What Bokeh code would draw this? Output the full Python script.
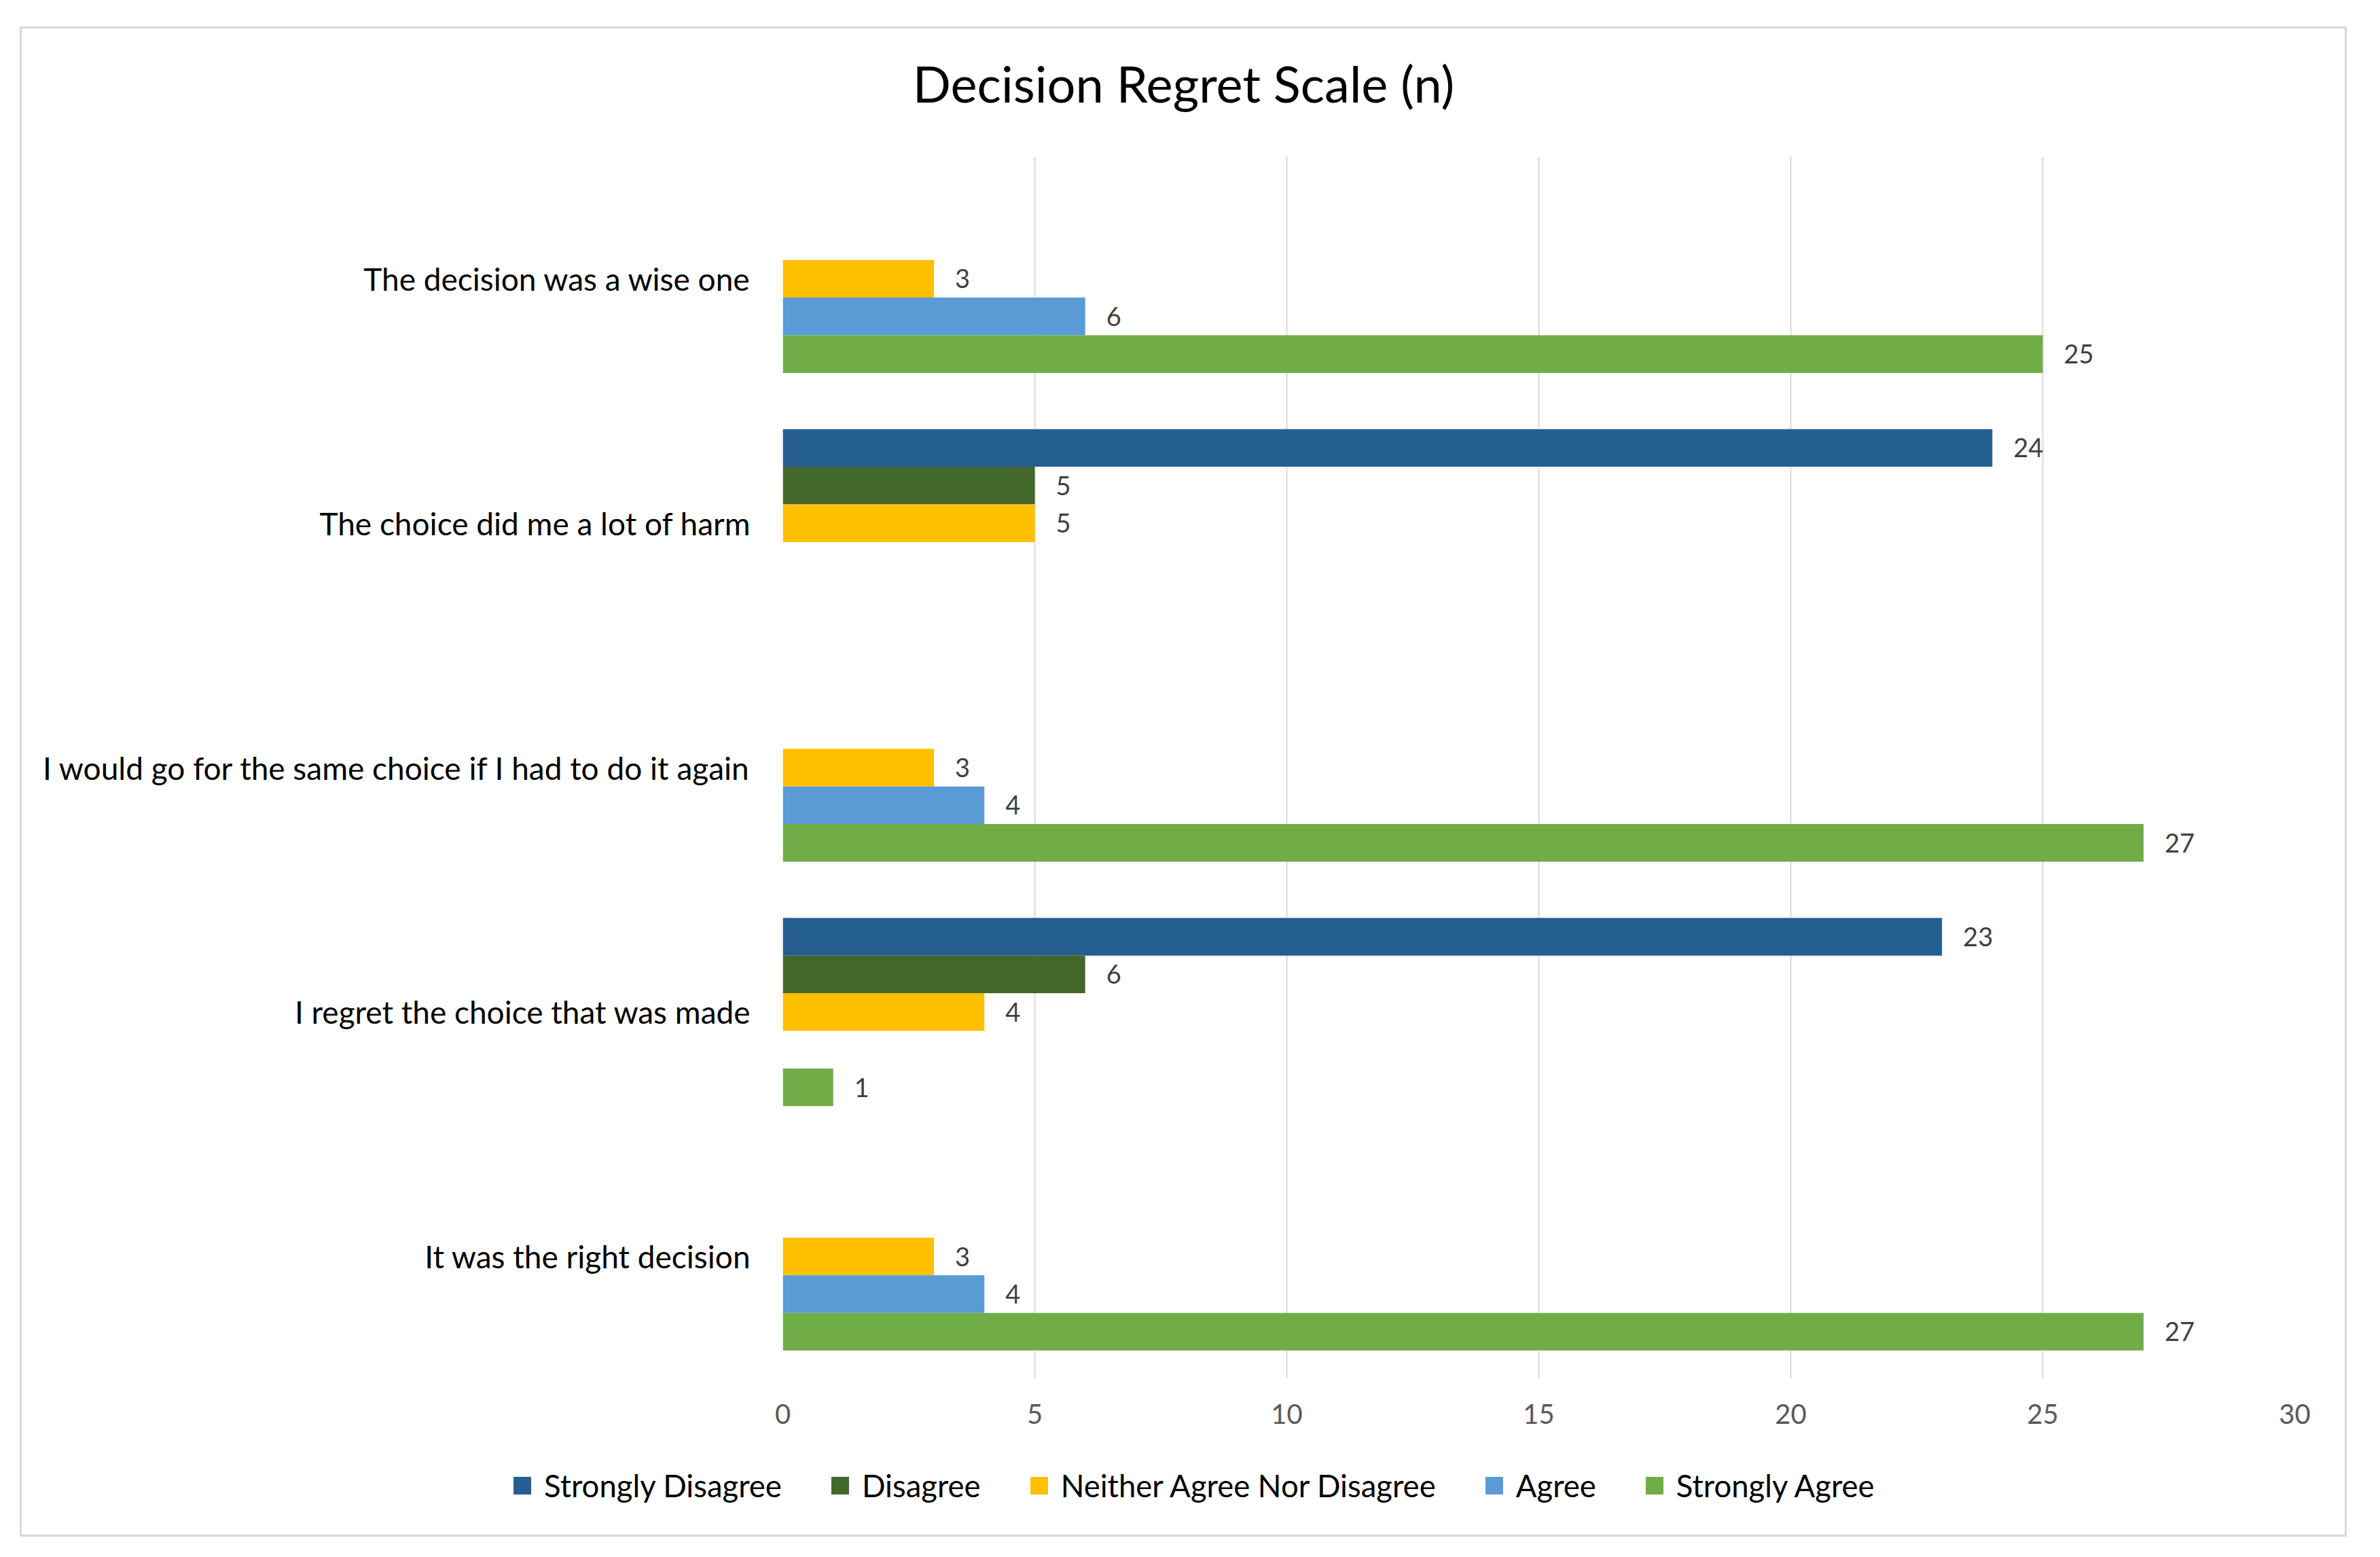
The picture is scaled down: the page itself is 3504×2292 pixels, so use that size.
from bokeh.plotting import figure
from bokeh.layouts import column
from bokeh.models import (ColumnDataSource, FactorRange, Range1d, FixedTicker, Label,
                          Legend, LegendItem)
from bokeh.transform import dodge
from bokeh.core.properties import value
from bokeh.embed import file_html
from bokeh.resources import INLINE

# ---------------- data ----------------
title_text = "Decision Regret Scale (n)"
categories = [
    "The decision was a wise one",
    "The choice did me a lot of harm",
    "I would go for the same choice if I had to do it again",
    "I regret the choice that was made",
    "It was the right decision",
]
series_names = ["Strongly Disagree", "Disagree", "Neither Agree Nor Disagree",
                "Agree", "Strongly Agree"]
strongly_disagree = [0, 24, 0, 23, 0]
disagree = [0, 5, 0, 6, 0]
neither = [3, 5, 3, 4, 3]
agree = [6, 0, 4, 0, 4]
strongly_agree = [25, 0, 27, 1, 27]
x_ticks = [0, 5, 10, 15, 20, 25, 30]

series_values = [strongly_disagree, disagree, neither, agree, strongly_agree]
colors = ["#255E91", "#43682B", "#FFC000", "#5B9BD5", "#70AD47"]

FONT = "Lato"
BAR_H = 0.154
offsets = [2 * BAR_H, BAR_H, 0.0, -BAR_H, -2 * BAR_H]

W = 3420
H0 = 150
H1 = 1950
H2 = 117


def strip(h):
    f = figure(width=W, height=h, x_range=Range1d(-2, -1), y_range=Range1d(-2, -1),
               x_axis_type=None, y_axis_type=None, title=None,
               output_backend="svg", toolbar_location=None,
               min_border_left=0, min_border_right=0, min_border_top=0,
               min_border_bottom=0)
    f.frame_align = False
    f.outline_line_color = None
    f.grid.grid_line_color = None
    f.background_fill_color = "white"
    f.border_fill_color = "white"
    return f


# ---- title strip ----
p0 = strip(H0)
p0.add_layout(Label(x=1710, y=70, x_units="screen", y_units="screen", text=title_text,
                    text_align="center", text_baseline="middle",
                    text_font=FONT, text_font_size="74px", text_color="#000000"))

# ---- main chart ----
p = figure(
    width=W, height=H1,
    y_range=FactorRange(factors=list(reversed(categories)), range_padding=0),
    x_range=Range1d(0, 30), title=None,
    output_backend="svg", toolbar_location=None,
    min_border_left=1120, min_border_right=74,
    min_border_top=38, min_border_bottom=113,
)
p.outline_line_color = None
p.background_fill_color = "white"
p.border_fill_color = "white"

sources = []
for name, vals, col, off in zip(series_names, series_values, colors, offsets):
    cats = [c for c, v in zip(categories, vals) if v > 0]
    vs = [v for v in vals if v > 0]
    src = ColumnDataSource(dict(cat=cats, val=vs, lab=[str(v) for v in vs]))
    sources.append(src)
    p.hbar(y=dodge("cat", off, range=p.y_range), left=0, right="val",
           height=BAR_H, source=src, fill_color=col, line_color=None)
    p.text(x="val", y=dodge("cat", off, range=p.y_range), text="lab", source=src,
           x_offset=31, text_align="left", text_baseline="middle",
           text_font=value(FONT), text_font_size="38px", text_color="#404040")

p.xaxis.ticker = FixedTicker(ticks=x_ticks)
p.xaxis.axis_line_color = None
p.xaxis.major_tick_line_color = None
p.xaxis.minor_tick_line_color = None
p.xaxis.major_label_text_font = FONT
p.xaxis.major_label_text_font_size = "40px"
p.xaxis.major_label_text_color = "#595959"
p.xaxis.major_label_standoff = 31

p.yaxis.axis_line_color = None
p.yaxis.major_tick_line_color = None
p.yaxis.minor_tick_line_color = None
p.yaxis.major_label_text_font = FONT
p.yaxis.major_label_text_font_size = "46px"
p.yaxis.major_label_text_color = "#000000"
p.yaxis.major_label_standoff = 41

p.xgrid.ticker = FixedTicker(ticks=x_ticks)
p.xgrid.grid_line_color = "#D9D9D9"
p.xgrid.grid_line_width = 2
p.ygrid.grid_line_color = None

# ---- legend strip ----
p2 = strip(H2)
items = []
for name, col, src in zip(series_names, colors, sources):
    r = p2.scatter(x="val", y="val", source=src, marker="square",
                   fill_color=col, line_color=None)
    items.append(LegendItem(label=name, renderers=[r]))

legend = Legend(items=items, orientation="horizontal", location=(704, 40),
                glyph_width=65, glyph_height=65, label_standoff=-7, spacing=53,
                padding=0, margin=0, border_line_color=None, background_fill_alpha=0,
                label_text_font=FONT, label_text_font_size="45.5px",
                label_text_color="#000000", label_text_baseline="middle")
p2.add_layout(legend, "center")

layout = column(p0, p, p2, spacing=0,
                styles={"border": "3px solid #D9D9D9", "margin-left": "29px",
                        "margin-top": "39px"})

open("out.html", "w").write(file_html(layout, INLINE))
